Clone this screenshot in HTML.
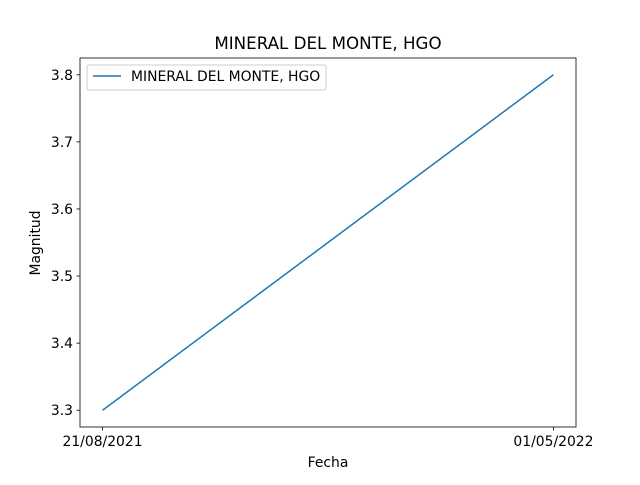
<!DOCTYPE html>
<html><head><meta charset="utf-8"><style>
body{margin:0;background:#fff;}
svg text{font-family:"DejaVu Sans","Liberation Sans",sans-serif;fill:#000;}
</style></head><body>
<svg width="640" height="480" viewBox="0 0 640 480">
<rect width="640" height="480" fill="#fff"/>
<text x="328" y="49" font-size="16.7" text-anchor="middle">MINERAL DEL MONTE, HGO</text>
<g id="axes"></g>
<rect x="80" y="58" width="496" height="369" fill="none" stroke="#000" stroke-width="0.8"/>
<text x="328" y="467" font-size="13.9" text-anchor="middle">Fecha</text>
<text x="40" y="243" font-size="13.9" text-anchor="middle" transform="rotate(-90 40 243)">Magnitud</text>
<g>
<rect x="87" y="65" width="239" height="25" rx="2" fill="#fff" stroke="#ccc" stroke-width="1"/>
<line x1="93" y1="76" x2="121" y2="76" stroke="#1f77b4" stroke-width="1.5"/>
<text x="131" y="81" font-size="13.9">MINERAL DEL MONTE, HGO</text>
</g>
</svg>
<script>
const categories = ["21/08/2021","01/05/2022"];
const values = [3.3, 3.8];
const yTicks = [3.3,3.4,3.5,3.6,3.7,3.8];
const L=80,R=576,T=58,B=427;
const ymin=3.275,ymax=3.825;
const n=categories.length;
const xs=i=>{const lo=-0.05*(n-1),hi=(n-1)*1.05;return L+(i-lo)/(hi-lo)*(R-L);};
const ys=v=>B-(v-ymin)/(ymax-ymin)*(B-T);
const g=document.getElementById('axes');
const NS='http://www.w3.org/2000/svg';
function mk(t,a){const e=document.createElementNS(NS,t);for(const k in a)e.setAttribute(k,a[k]);g.appendChild(e);return e;}
yTicks.forEach(v=>{
 const tk=mk('line',{x1:L-3.5,x2:L,y1:ys(v),y2:ys(v),stroke:'#000','stroke-width':0.8});
 
 
 const t=mk('text',{x:L-7,y:ys(v)+5,'font-size':13.9,'text-anchor':'end'});
 t.textContent=v.toFixed(1);
 
 
});
categories.forEach((c,i)=>{
 const tk=mk('line',{x1:xs(i),x2:xs(i),y1:B,y2:B+3.5,stroke:'#000','stroke-width':0.8});
 
 
 const t=mk('text',{x:xs(i),y:B+19,'font-size':13.9,'text-anchor':'middle'});
 t.textContent=c;
 
 
});
const pl=mk('polyline',{points:values.map((v,i)=>xs(i)+','+ys(v)).join(' '),fill:'none',stroke:'#1f77b4','stroke-width':1.5});


</script>
</body></html>
